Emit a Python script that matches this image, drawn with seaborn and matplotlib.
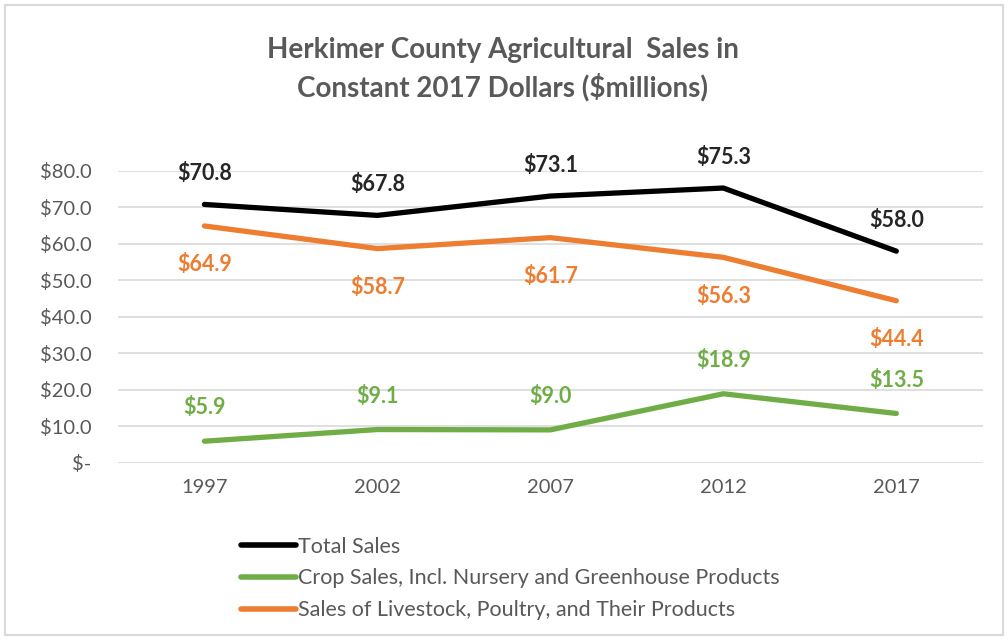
import matplotlib
matplotlib.use("Agg")
import matplotlib.pyplot as plt
import seaborn as sns
import pandas as pd
from matplotlib.patches import Rectangle
from matplotlib.lines import Line2D

years = ["1997", "2002", "2007", "2012", "2017"]
total_sales = [70.8, 67.8, 73.1, 75.3, 58.0]
crop_sales = [5.9, 9.1, 9.0, 18.9, 13.5]
livestock_sales = [64.9, 58.7, 61.7, 56.3, 44.4]
series_names = ["Total Sales",
                "Crop Sales, Incl. Nursery and Greenhouse Products",
                "Sales of Livestock, Poultry, and Their Products"]
colors = ["#000000", "#70AD47", "#ED7D31"]
label_colors = ["#262626", "#70AD47", "#ED7D31"]
label_offsets = [22, 24, -28]  # points: above/below

sns.set_theme(style="white")
plt.rcParams['font.family'] = ['Lato', 'DejaVu Sans']

rows = []
for name, vals in zip(series_names, [total_sales, crop_sales, livestock_sales]):
    for i, (y, v) in enumerate(zip(years, vals)):
        rows.append({"idx": i, "year": y, "value": v, "series": name})
df = pd.DataFrame(rows)

fig = plt.figure(figsize=(10.08, 6.4), dpi=100)
ax = fig.add_axes([0.117, 0.277, 0.858, 0.456])

sns.lineplot(data=df, x="idx", y="value", hue="series", hue_order=series_names,
             palette=colors, linewidth=3.8, ax=ax, legend=False, sort=False,
             solid_capstyle="round")

ax.set_xlim(-0.5, 4.5)
ax.set_ylim(0, 80)
ax.set_yticks(range(0, 81, 10))
ax.set_yticklabels(["$-"] + [f"${v:.1f}" for v in range(10, 81, 10)])
ax.set_xticks(range(len(years)))
ax.set_xticklabels(years)
ax.tick_params(axis='both', labelsize=14.5, colors="#595959", length=0)
ax.tick_params(axis='y', pad=19)
ax.tick_params(axis='x', pad=12)
ax.grid(axis='y', color="#D9D9D9", linewidth=1.2)
ax.set_axisbelow(True)
for s in ax.spines.values():
    s.set_visible(False)
ax.set_xlabel("")
ax.set_ylabel("")

for vals, col, off in zip([total_sales, crop_sales, livestock_sales], label_colors, label_offsets):
    for i, v in enumerate(vals):
        ax.annotate(f"${v:.1f}", (i, v), xytext=(0, off), textcoords="offset points",
                    ha="center", va="center", fontsize=15.5, fontweight="bold", color=col)

fig.text(0.499, 0.892, "Herkimer County Agricultural  Sales in\nConstant 2017 Dollars ($millions)",
         ha="center", va="center", fontsize=20, fontweight="bold", color="#595959",
         linespacing=1.45)

handles = [Line2D([0], [0], color=c, linewidth=4, solid_capstyle="round") for c in colors]
leg = fig.legend(handles, series_names, loc="upper left", bbox_to_anchor=(0.231, 0.175),
                 frameon=False, fontsize=15.5, handlelength=2.55, handletextpad=0.08,
                 labelspacing=0.55, labelcolor="#595959", borderaxespad=0)

fig.patches.append(Rectangle((0.005, 0.008), 0.99, 0.984, transform=fig.transFigure,
                             fill=False, edgecolor="#D9D9D9", linewidth=1.5))

fig.savefig("out.png", dpi=100)
